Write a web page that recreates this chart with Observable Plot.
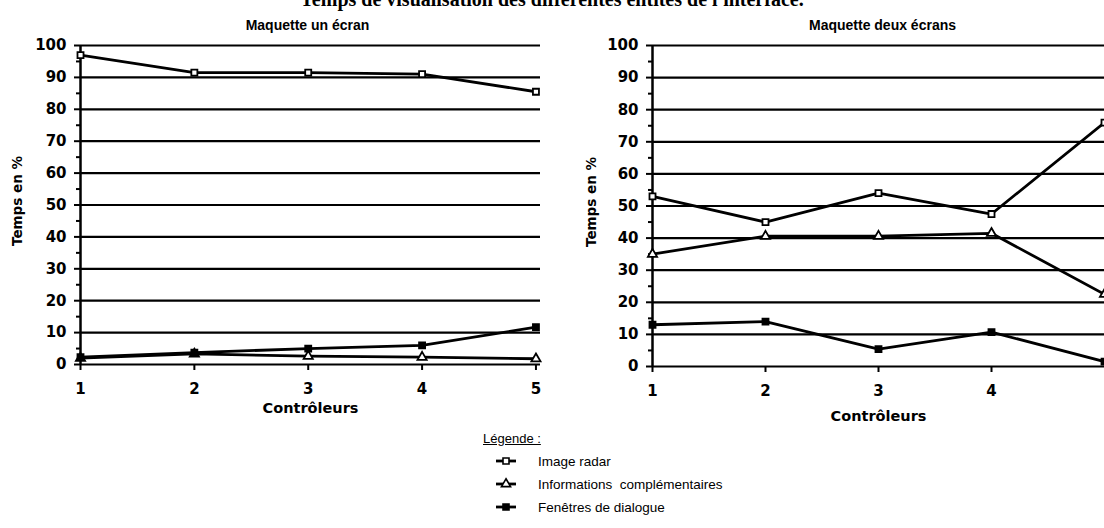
<!DOCTYPE html>
<html>
<head>
<meta charset="utf-8">
<script src="https://cdn.jsdelivr.net/npm/d3@7"></script>
<script src="https://cdn.jsdelivr.net/npm/@observablehq/plot@0.6"></script>
<style>
  html, body { margin: 0; padding: 0; background: #fff; }
  #root { position: relative; width: 1104px; height: 528px; overflow: hidden; background: #fff; }
  #title { position: absolute; left: 0; width: 1104px; top: -11px; text-align: center;
           font-family: "Liberation Serif", serif; font-weight: bold; font-size: 20px; line-height: 20px; color: #000; white-space: nowrap; }
  .panel { position: absolute; top: 0; }
  #legend { position: absolute; left: 483px; top: 428px; font-family: "Liberation Sans", Arial, sans-serif; font-size: 13.5px; color: #000; }
  #legend .head { margin-left: 0; text-decoration: underline; font-size: 13px; height: 22px; line-height: 22px; }
  #legend .row { position: relative; height: 23px; line-height: 23px; white-space: pre; }
  #legend .row svg { position: absolute; left: 12px; top: 3px; }
  #legend .row span { position: absolute; left: 55px; top: 0; }
</style>
</head>
<body>
<div id="root">
  <div id="title">Temps de visualisation des différentes entités de l'interface.</div>
  <div id="left" class="panel" style="left:0px"></div>
  <div id="right" class="panel" style="left:560px"></div>
  <div id="legend"></div>
</div>
<script>
// ---- data ----
const controleurs = [1, 2, 3, 4, 5];
const seriesNames = ["Image radar", "Informations  complémentaires", "Fenêtres de dialogue"];
const panelTitles = ["Maquette un écran", "Maquette deux écrans"];
const yTicks = [0, 10, 20, 30, 40, 50, 60, 70, 80, 90, 100];
const yMinorTicks = [5, 15, 25, 35, 45, 55, 65, 75, 85, 95];
const xLabel = "Contrôleurs";
const yLabel = "Temps en %";
const legendTitle = "Légende :";

const unEcranRadar     = [97, 91.5, 91.5, 91, 85.5];
const unEcranInfo      = [2, 3.3, 2.6, 2.3, 1.8];
const unEcranDialogue  = [2.3, 3.7, 5, 6, 11.7];

const deuxEcransRadar    = [53, 45, 54, 47.5, 76];
const deuxEcransInfo     = [35, 40.6, 40.6, 41.5, 22.5];
const deuxEcransDialogue = [13, 14, 5.4, 10.7, 1.5];

// symbol styles per series
const symbolStyle = [
  {symbol: "square", fill: "white"},
  {symbol: "triangle", fill: "white"},
  {symbol: "square", fill: "black"}
];

function toRows(arrays) {
  const rows = [];
  arrays.forEach((vals, s) => {
    vals.forEach((v, i) => rows.push({serie: seriesNames[s], s, x: controleurs[i], y: v}));
  });
  return rows;
}

const tickFont = {fontFamily: "DejaVu Sans, sans-serif", fontWeight: "bold", fontSize: 15};

function panel(rows, title, opts) {
  const marks = [
    Plot.ruleY(yTicks, {stroke: "black", strokeWidth: 2.2}),
    Plot.ruleX([1], {stroke: "black", strokeWidth: 2.5}),
    Plot.axisY(yTicks, {tickSize: 6, tickPadding: 8, label: null, ...tickFont, strokeWidth: 2}),
    Plot.axisY(yMinorTicks, {tickSize: 4, text: null, label: null, strokeWidth: 2}),
    Plot.axisX(opts.xTicks, {tickSize: 6, tickPadding: 13, label: null, tickFormat: d => String(d), ...tickFont, strokeWidth: 2}),
    Plot.text([xLabel], {frameAnchor: "bottom", lineAnchor: "middle", dy: opts.xLabelDy, text: d => d, ...tickFont, fontSize: 14.5}),
    Plot.text([yLabel], {frameAnchor: "left", textAnchor: "middle", dx: opts.yLabelDx, dy: -4, rotate: -90, text: d => d, ...tickFont, fontSize: 13.5}),
    Plot.text([title], {frameAnchor: "top", lineAnchor: "middle", dy: -20, dx: opts.titleDx, text: d => d,
      fontFamily: "Liberation Sans, Arial, sans-serif", fontWeight: "bold", fontSize: 14}),
    Plot.line(rows, {x: "x", y: "y", z: "serie", stroke: "black", strokeWidth: 2.8})
  ];
  seriesNames.forEach((name, s) => {
    marks.push(Plot.dot(rows.filter(r => r.s === s), {x: "x", y: "y", r: 3.4,
      symbol: symbolStyle[s].symbol, fill: symbolStyle[s].fill, stroke: "black", strokeWidth: 1.8}));
  });
  return Plot.plot({
    width: opts.width, height: 420,
    marginLeft: opts.marginLeft, marginRight: opts.marginRight,
    marginTop: opts.marginTop, marginBottom: opts.marginBottom,
    x: {domain: opts.xDomain, axis: null},
    y: {domain: [0, 100], axis: null},
    style: {background: "transparent", color: "black", overflow: "visible"},
    marks
  });
}

document.getElementById("left").appendChild(panel(
  toRows([unEcranRadar, unEcranInfo, unEcranDialogue]), panelTitles[0],
  {width: 560, marginLeft: 80, marginRight: 20, marginTop: 45, marginBottom: 56,
   xDomain: [1, 5.04], xTicks: controleurs, yLabelDx: -63, titleDx: -3, xLabelDy: 44}));

// the right panel is cropped at Contrôleur 5 in the source: its label falls outside the picture
document.getElementById("right").appendChild(panel(
  toRows([deuxEcransRadar, deuxEcransInfo, deuxEcransDialogue]), panelTitles[1],
  {width: 544, marginLeft: 92, marginRight: 0, marginTop: 45, marginBottom: 54,
   xDomain: [1, 5], xTicks: controleurs.filter(c => c < 5), yLabelDx: -61, titleDx: 4, xLabelDy: 50}));

// legend
const legend = document.getElementById("legend");
const head = document.createElement("div");
head.className = "head";
head.textContent = legendTitle;
legend.appendChild(head);
seriesNames.forEach((name, s) => {
  const row = document.createElement("div");
  row.className = "row";
  const ns = "http://www.w3.org/2000/svg";
  const svg = document.createElementNS(ns, "svg");
  svg.setAttribute("width", 22); svg.setAttribute("height", 16);
  const line = document.createElementNS(ns, "line");
  line.setAttribute("x1", 1); line.setAttribute("x2", 21);
  line.setAttribute("y1", 8); line.setAttribute("y2", 8);
  line.setAttribute("stroke", "black"); line.setAttribute("stroke-width", 2.8);
  svg.appendChild(line);
  const sym = document.createElementNS(ns, "path");
  sym.setAttribute("d", d3.symbol(symbolStyle[s].symbol === "square" ? d3.symbolSquare : d3.symbolTriangle, 36)());
  sym.setAttribute("transform", "translate(11,8)");
  sym.setAttribute("fill", symbolStyle[s].fill);
  sym.setAttribute("stroke", "black"); sym.setAttribute("stroke-width", 1.6);
  svg.appendChild(sym);
  row.appendChild(svg);
  const span = document.createElement("span");
  span.textContent = name;
  row.appendChild(span);
  legend.appendChild(row);
});
</script>
</body>
</html>
